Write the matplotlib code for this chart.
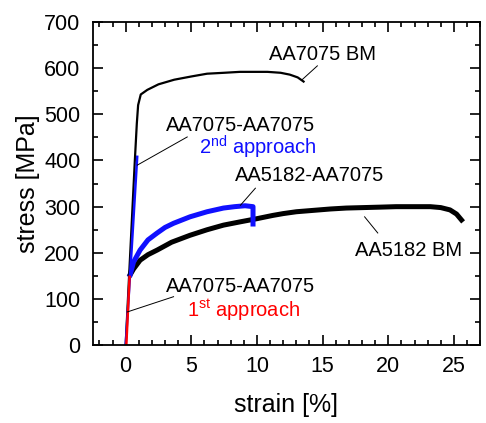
import matplotlib
matplotlib.use("Agg")
import matplotlib.pyplot as plt
from matplotlib.ticker import MultipleLocator

plt.rcParams["font.family"] = ["Liberation Sans", "DejaVu Sans"]
plt.rcParams["mathtext.fontset"] = "custom"
plt.rcParams["mathtext.rm"] = "Liberation Sans"
plt.rcParams["mathtext.it"] = "Liberation Sans"

# AA7075 base metal
bm7075_strain = [0.0, 0.35, 0.7, 0.85, 0.95, 1.15, 1.65, 2.5, 3.7, 5.0, 6.2, 7.5, 8.7, 10.0, 10.8, 11.8, 12.5, 13.1, 13.55]
bm7075_stress = [0, 200, 400, 480, 520, 543, 553, 565, 575, 582, 588, 590, 592, 592, 592, 590, 586, 580, 571]

# AA7075-AA7075, 2nd approach (elastic part only)
app2_strain = [0.0, 0.45, 0.88]
app2_stress = [0, 205, 408]

# AA7075-AA7075, 1st approach
app1_strain = [0.05, 0.15, 0.3]
app1_stress = [0, 60, 148]

# AA5182-AA7075
mix_strain = [0.3, 0.6, 1.1, 1.7, 2.4, 3.0, 3.65, 4.9, 6.2, 7.45, 8.3, 9.1, 9.7, 9.7]
mix_stress = [148, 180, 206, 228, 243, 255, 264, 278, 289, 297, 300, 302, 300, 257]

# AA5182 base metal
bm5182_strain = [0.25, 0.6, 1.1, 1.7, 2.4, 3.5, 4.9, 6.2, 7.45, 8.7, 10.0, 11.2, 12.0, 13.0, 14.3, 15.6, 16.8, 18.1,
                 19.4, 20.6, 21.9, 23.2, 24.0, 24.7, 25.2, 25.7]
bm5182_stress = [148, 165, 184, 196, 206, 223, 238, 250, 260, 267, 274, 281, 285, 289, 292, 295, 297, 298,
                 299, 300, 300, 300, 298, 293, 284, 267]

fig = plt.figure(figsize=(4.86, 4.23), dpi=100)
ax = fig.add_axes([0.191, 0.184, 0.797, 0.764])

ax.plot(bm5182_strain, bm5182_stress, color="black", lw=3.6, solid_capstyle="butt")
ax.plot(mix_strain, mix_stress, color="#1010ff", lw=3.6, solid_capstyle="butt")
ax.plot(bm7075_strain, bm7075_stress, color="black", lw=1.6)
ax.plot(app2_strain, app2_stress, color="#1010ff", lw=1.8)
ax.plot(app1_strain, app1_stress, color="#ff0000", lw=1.8)

# leader lines from the labels to the curves
leaders = [
    ((13.4, 14.6), (574, 605)),
    ((0.89, 4.69), (390, 451)),
    ((8.74, 9.88), (303, 340)),
    ((18.2, 19.2), (278, 243)),
    ((0.13, 3.65), (72, 105)),
]
for lx, ly in leaders:
    ax.plot(lx, ly, color="black", lw=0.7)

fs = 14.5
ax.text(10.9, 618, "AA7075 BM", fontsize=fs, va="baseline")
ax.text(3.05, 464, "AA7075-AA7075", fontsize=fs, va="baseline")
ax.text(5.6, 412, r"2$^{\mathrm{nd}}$ approach", fontsize=fs, va="baseline", color="#1010ff")
ax.text(8.3, 356, "AA5182-AA7075", fontsize=fs, va="baseline")
ax.text(17.5, 193, "AA5182 BM", fontsize=fs, va="baseline")
ax.text(3.1, 116, "AA7075-AA7075", fontsize=fs, va="baseline")
ax.text(4.7, 61, r"1$^{\mathrm{st}}$ approach", fontsize=fs, va="baseline", color="#ff0000")

ax.set_xlim(-2.5, 27)
ax.set_ylim(0, 700)
ax.xaxis.set_major_locator(MultipleLocator(5))
ax.xaxis.set_minor_locator(MultipleLocator(1))
ax.yaxis.set_major_locator(MultipleLocator(100))
ax.yaxis.set_minor_locator(MultipleLocator(50))
ax.tick_params(which="both", direction="in", top=True, right=True, width=1.2, labelsize=15.5)
ax.tick_params(which="major", length=7)
ax.tick_params(which="minor", length=3.5)
ax.tick_params(axis="y", pad=9)
ax.tick_params(axis="x", pad=8)
for s in ax.spines.values():
    s.set_linewidth(1.3)

ax.set_xlabel("strain [%]", fontsize=18, labelpad=11)
ax.set_ylabel("stress [MPa]", fontsize=18, labelpad=3)

fig.savefig("out.png", dpi=100)
